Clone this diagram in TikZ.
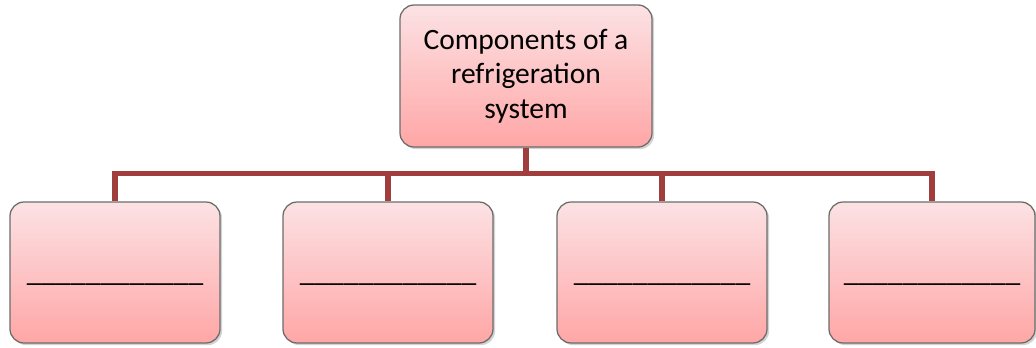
\documentclass[tikz,border=0pt]{standalone}
\usepackage{fontspec}
\setmainfont{Carlito}
\usetikzlibrary{shadows}
\definecolor{linkred}{RGB}{160,62,62}
\definecolor{boxtop}{RGB}{252,226,228}
\definecolor{boxbot}{RGB}{255,166,166}
\tikzset{
	part/.style={draw=gray!85!black, line width=0.9pt, rounded corners=10pt,
		top color=boxtop, bottom color=boxbot,
		drop shadow={shadow xshift=1.5pt, shadow yshift=-1.5pt, opacity=0.35, fill=gray},
		font=\fontsize{21}{24.5}\selectfont, align=center, inner sep=0pt},
	link/.style={draw=linkred, line width=3.8pt}
}
\begin{document}
\begin{tikzpicture}
			\useasboundingbox (0,0) rectangle (25.9,8.675);
			\node[part, minimum width=6.3cm, minimum height=3.55cm] (top) at (13.15,6.775) {Components of a\\refrigeration\\system};
			\node[part, minimum width=5.25cm, minimum height=3.525cm] (c1) at (2.875,1.8625) {\raisebox{-0.55cm}{\_\_\_\_\_\_\_\_\_\_\_\_}};
			\node[part, minimum width=5.25cm, minimum height=3.525cm] (c2) at (9.7,1.8625) {\raisebox{-0.55cm}{\_\_\_\_\_\_\_\_\_\_\_\_}};
			\node[part, minimum width=5.25cm, minimum height=3.525cm] (c3) at (16.55,1.8625) {\raisebox{-0.55cm}{\_\_\_\_\_\_\_\_\_\_\_\_}};
			\node[part, minimum width=5.15cm, minimum height=3.525cm] (c4) at (23.3,1.8625) {\raisebox{-0.55cm}{\_\_\_\_\_\_\_\_\_\_\_\_}};
			\coordinate (bar) at (13.15,4.33);
			\draw[link] (top.south) -- (bar);
			\draw[link] (bar) -| (c1.north);
			\draw[link] (bar) -| (c2.north);
			\draw[link] (bar) -| (c3.north);
			\draw[link] (bar) -| (c4.north);
\end{tikzpicture}
\end{document}
